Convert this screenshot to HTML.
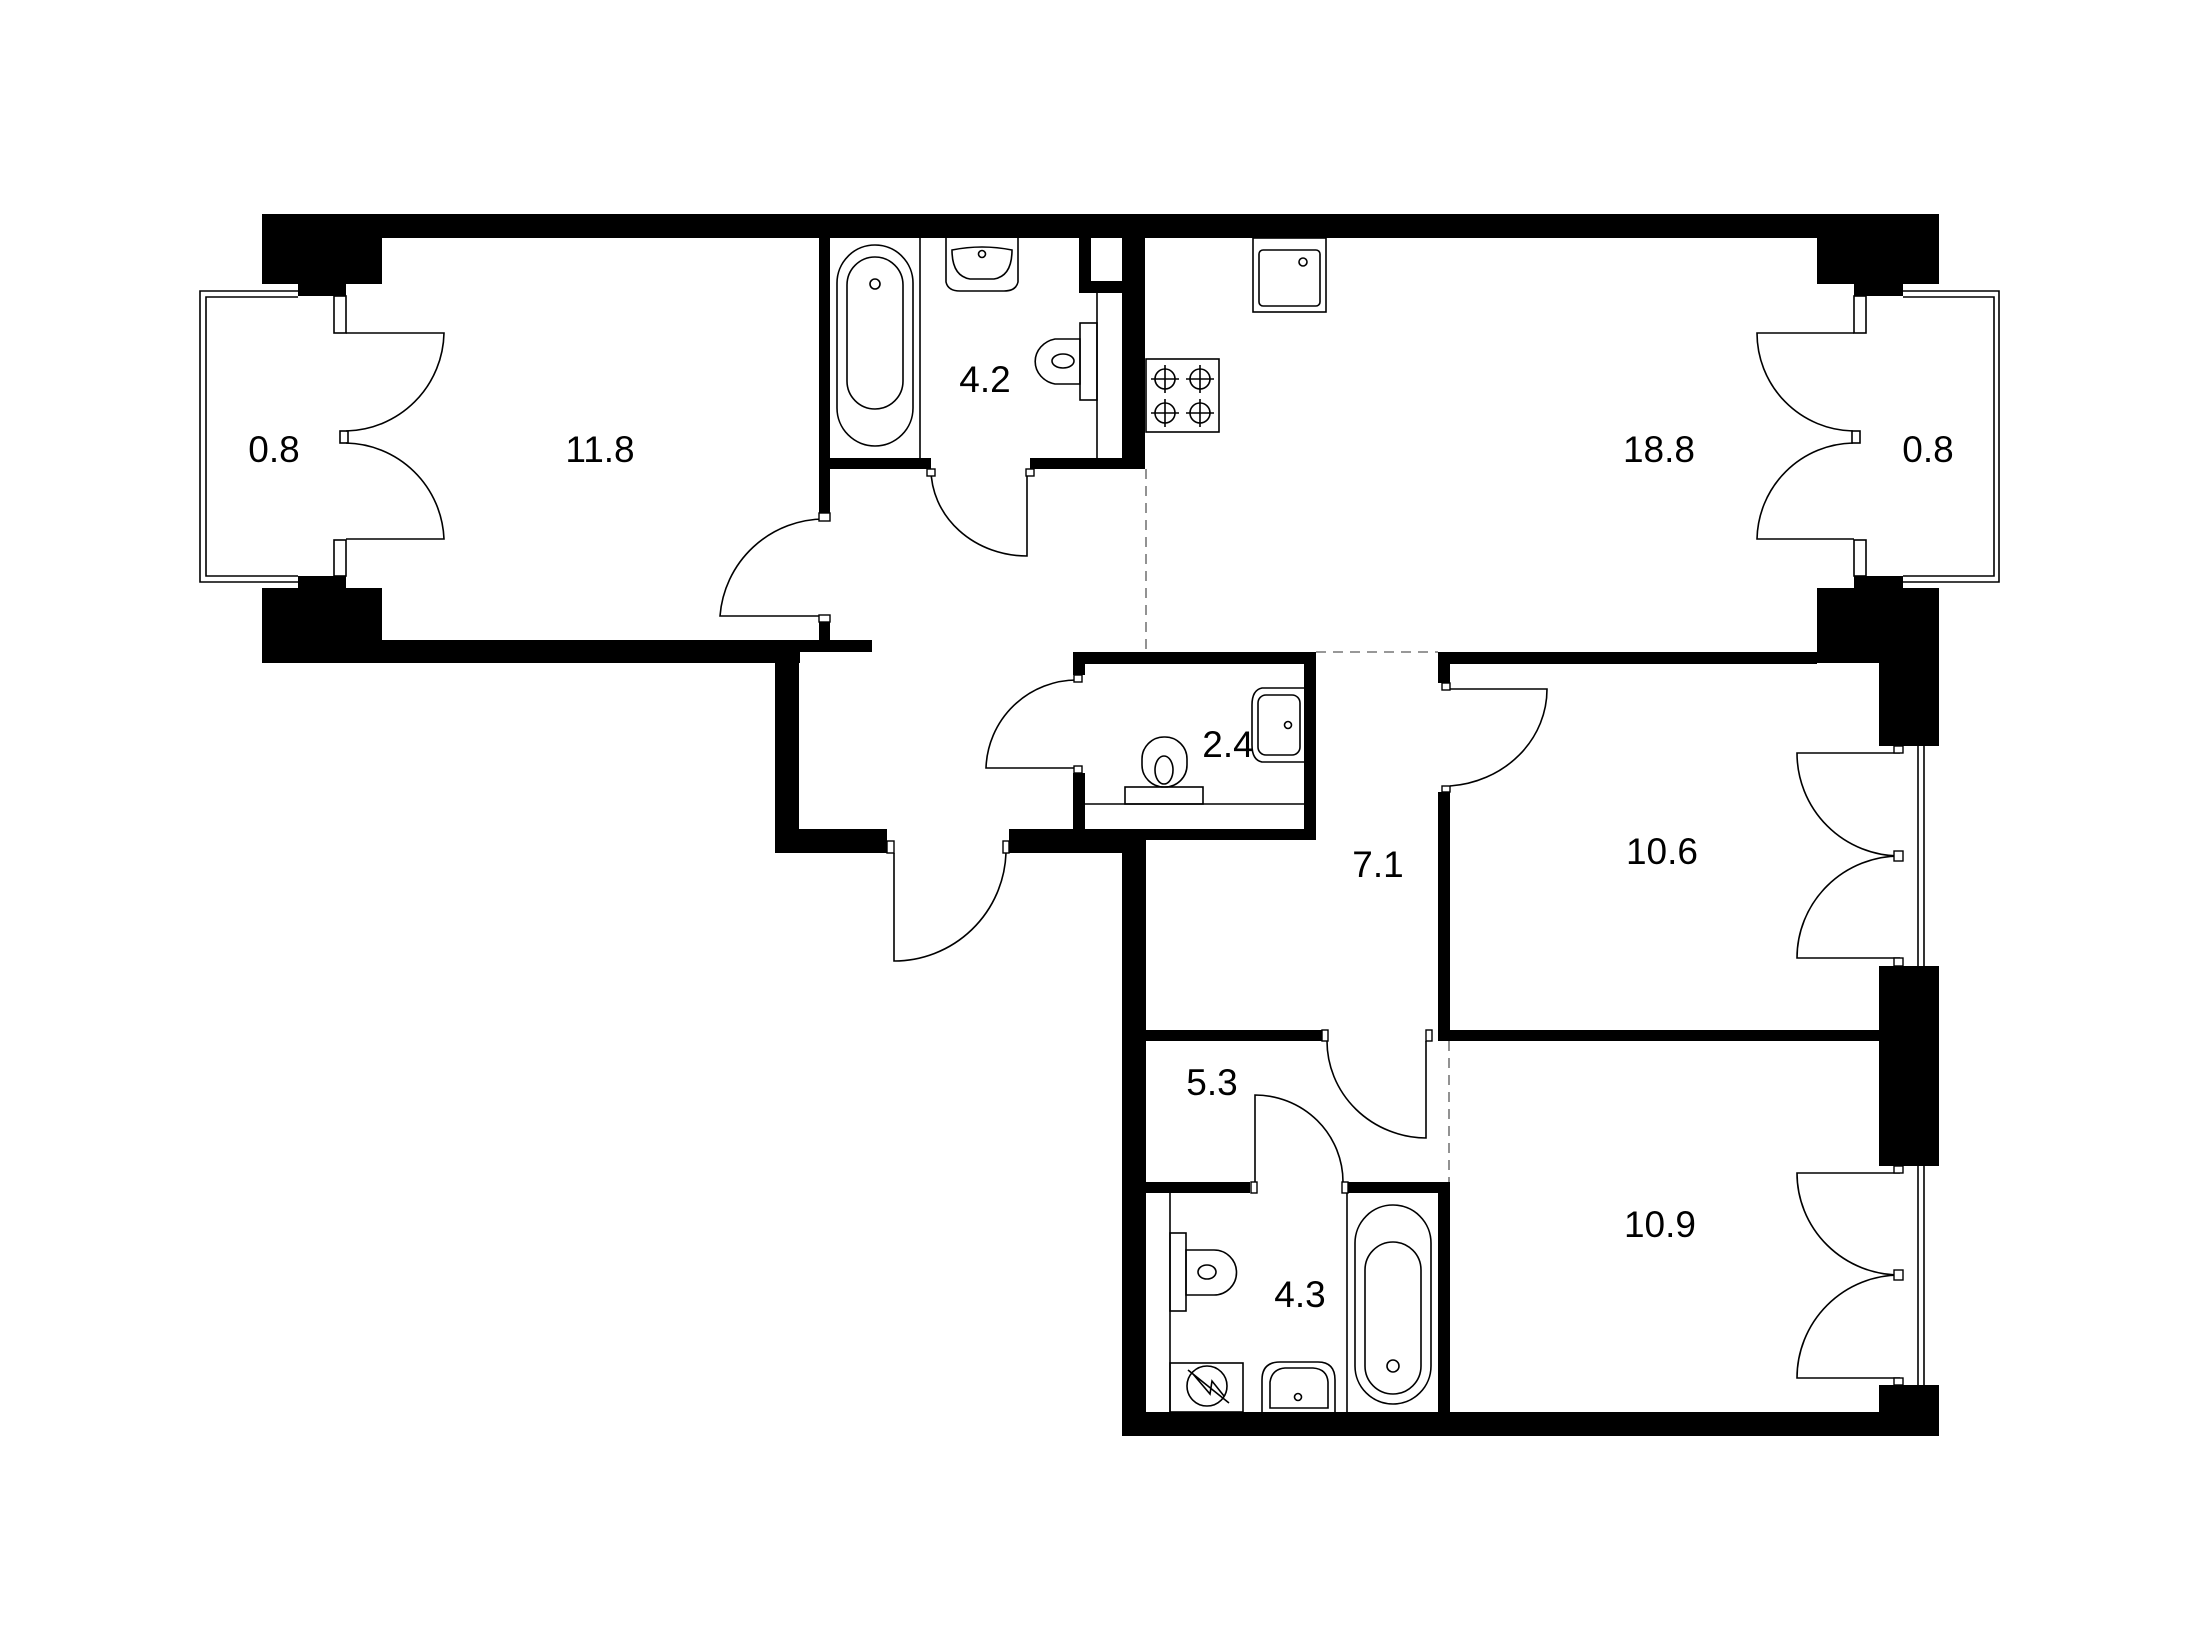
<!DOCTYPE html>
<html><head><meta charset="utf-8"><style>
html,body{margin:0;padding:0;background:#fff;}
svg{display:block;}
text{font-family:"Liberation Sans",sans-serif;font-size:37px;fill:#000;text-anchor:middle;}
</style></head><body>
<svg width="2200" height="1650" viewBox="0 0 2200 1650" xmlns="http://www.w3.org/2000/svg">
<g fill="#000">
<rect x="262" y="214" width="1677" height="24"/>
<rect x="262" y="214" width="120" height="70"/>
<rect x="1817" y="214" width="122" height="70"/>
<rect x="298" y="284" width="48" height="12"/>
<rect x="1854" y="284" width="49" height="12"/>
<rect x="298" y="576" width="48" height="12"/>
<rect x="1854" y="576" width="49" height="12"/>
<rect x="262" y="588" width="120" height="75"/>
<rect x="1817" y="588" width="62" height="75"/>
<rect x="1879" y="588" width="60" height="158"/>
<rect x="1879" y="966" width="60" height="200"/>
<rect x="1879" y="1385" width="60" height="51"/>
<rect x="382" y="640" width="418" height="23"/>
<rect x="800" y="640" width="72" height="12"/>
<rect x="775" y="640" width="24" height="213"/>
<rect x="775" y="829" width="112" height="24"/>
<rect x="1009" y="829" width="113" height="24"/>
<rect x="819" y="238" width="11" height="275"/>
<rect x="819" y="622" width="11" height="18"/>
<rect x="830" y="458" width="101" height="11"/>
<rect x="1030" y="458" width="92" height="11"/>
<rect x="1122" y="238" width="23" height="231"/>
<rect x="1079" y="238" width="12" height="50"/>
<rect x="1079" y="281" width="43" height="12"/>
<rect x="1073" y="652" width="243" height="12"/>
<rect x="1073" y="652" width="12" height="23"/>
<rect x="1073" y="773" width="12" height="56"/>
<rect x="1304" y="652" width="12" height="188"/>
<rect x="1146" y="829" width="170" height="11"/>
<rect x="1122" y="829" width="24" height="607"/>
<rect x="1122" y="1412" width="817" height="24"/>
<rect x="1438" y="652" width="379" height="12"/>
<rect x="1438" y="652" width="12" height="31"/>
<rect x="1438" y="792" width="12" height="249"/>
<rect x="1450" y="1030" width="429" height="11"/>
<rect x="1146" y="1030" width="176" height="11"/>
<rect x="1438" y="1030" width="12" height="11"/>
<rect x="1146" y="1182" width="104" height="11"/>
<rect x="1347" y="1182" width="91" height="11"/>
<rect x="1438" y="1182" width="12" height="230"/>
</g>
<g fill="none" stroke="#000" stroke-width="1.6">
<polyline points="298,291 200,291 200,582 298,582"/>
<polyline points="298,297 206,297 206,576 298,576"/>
<polyline points="1903,291 1999,291 1999,582 1903,582"/>
<polyline points="1903,297 1994,297 1994,576 1903,576"/>
<rect x="334" y="296" width="12" height="37"/><rect x="334" y="540" width="12" height="36"/><rect x="340" y="431" width="8" height="12"/>
<rect x="1854" y="296" width="12" height="37"/><rect x="1854" y="540" width="12" height="36"/><rect x="1852" y="431" width="8" height="12"/>
<path d="M346 333 H444 A100 100 0 0 1 346 431"/>
<path d="M346 539 H444 A100 100 0 0 0 346 443"/>
<path d="M1854 333 H1757 A98 98 0 0 0 1853 431"/>
<path d="M1854 539 H1757 A98 98 0 0 1 1853 443"/>
<path d="M825 616 H720 A105 105 0 0 1 825 519"/>
<path d="M1027 469 V556 A96 87 0 0 1 931 469"/>
<path d="M1077 768 H986 A91 91 0 0 1 1077 680"/>
<path d="M894 853 V961 A112 112 0 0 0 1006 853"/>
<path d="M1442 689 H1547 A105 97 0 0 1 1450 786"/>
<path d="M1426 1041 V1138 A100 97 0 0 1 1327 1041"/>
<path d="M1255 1182 V1095 A88 87 0 0 1 1343 1182"/>
<line x1="1918" y1="746" x2="1918" y2="966"/><line x1="1924" y1="746" x2="1924" y2="966"/>
<line x1="1918" y1="1166" x2="1918" y2="1385"/><line x1="1924" y1="1166" x2="1924" y2="1385"/>
<path d="M1900 753 H1797 A103 103 0 0 0 1900 856"/>
<path d="M1900 958 H1797 A103 102 0 0 1 1900 856"/>
<path d="M1900 1173 H1797 A103 102 0 0 0 1900 1275"/>
<path d="M1900 1378 H1797 A103 103 0 0 1 1900 1275"/>
<line x1="920" y1="238" x2="920" y2="458"/>
<rect x="837" y="245" width="76" height="201" rx="38"/>
<rect x="847" y="257" width="56" height="152" rx="28"/>
<circle cx="875" cy="284" r="5"/>
<path d="M946 238 V282 Q948 291 960 291 H1004 Q1016 291 1018 282 V238"/>
<path d="M952 250 Q952 276 970 279 H994 Q1012 276 1012 250 Q982 244 952 250 Z"/>
<circle cx="982" cy="254" r="3.5"/>
<line x1="1097" y1="293" x2="1097" y2="458"/>
<rect x="1080" y="323" width="17" height="77"/>
<path d="M1080 339 H1055 A25 23 0 0 0 1055 384 H1080 Z"/>
<ellipse cx="1063" cy="361" rx="11" ry="7"/>
<rect x="1253" y="238" width="73" height="74"/>
<rect x="1259" y="250" width="61" height="56" rx="4"/>
<circle cx="1303" cy="262" r="4"/>
<rect x="1146" y="359" width="73" height="73"/>
<g>
<circle cx="1165" cy="379" r="10"/><line x1="1151" y1="379" x2="1179" y2="379"/><line x1="1165" y1="365" x2="1165" y2="393"/>
<circle cx="1200" cy="379" r="10"/><line x1="1186" y1="379" x2="1214" y2="379"/><line x1="1200" y1="365" x2="1200" y2="393"/>
<circle cx="1165" cy="413" r="10"/><line x1="1151" y1="413" x2="1179" y2="413"/><line x1="1165" y1="399" x2="1165" y2="427"/>
<circle cx="1200" cy="413" r="10"/><line x1="1186" y1="413" x2="1214" y2="413"/><line x1="1200" y1="399" x2="1200" y2="427"/>
</g>
<line x1="1085" y1="804" x2="1304" y2="804"/>
<rect x="1125" y="787" width="78" height="17"/>
<rect x="1142" y="737" width="45" height="50" rx="22"/>
<ellipse cx="1164" cy="770" rx="9" ry="14"/>
<path d="M1304 688 H1262 Q1252 690 1252 705 V745 Q1252 760 1262 762 H1304"/>
<rect x="1258" y="695" width="42" height="60" rx="8"/>
<circle cx="1288" cy="725" r="3.5"/>
<line x1="1170" y1="1193" x2="1170" y2="1412"/>
<line x1="1347" y1="1193" x2="1347" y2="1412"/>
<rect x="1170" y="1233" width="16" height="78"/>
<path d="M1186 1250 H1214 A22 22 0 0 1 1214 1295 H1186 Z"/>
<ellipse cx="1207" cy="1272" rx="9" ry="7"/>
<rect x="1170" y="1363" width="73" height="49"/>
<circle cx="1207" cy="1386" r="20"/>
<path d="M1188 1370 L1229 1403 M1193 1374 L1210 1394 L1212 1381 L1224 1396"/>
<path d="M1262 1412 V1380 Q1262 1362 1280 1362 H1318 Q1335 1362 1335 1380 V1412"/>
<path d="M1270 1408 V1382 Q1272 1369 1285 1368 H1313 Q1327 1369 1328 1382 V1408 Z"/>
<circle cx="1298" cy="1397" r="3.5"/>
<rect x="1355" y="1205" width="76" height="199" rx="38"/>
<rect x="1365" y="1242" width="56" height="152" rx="28"/>
<circle cx="1393" cy="1366" r="6"/>
</g>
<g fill="#fff" stroke="#000" stroke-width="1.4">
<rect x="819" y="513" width="11" height="8"/><rect x="819" y="615" width="11" height="7"/>
<rect x="927" y="469" width="8" height="7"/><rect x="1026" y="469" width="8" height="7"/>
<rect x="1074" y="675" width="8" height="7"/><rect x="1074" y="766" width="8" height="7"/>
<rect x="887" y="841" width="7" height="12"/><rect x="1003" y="841" width="6" height="12"/>
<rect x="1442" y="683" width="8" height="7"/><rect x="1442" y="786" width="8" height="6"/>
<rect x="1322" y="1030" width="6" height="11"/><rect x="1426" y="1030" width="6" height="11"/>
<rect x="1251" y="1182" width="6" height="11"/><rect x="1342" y="1182" width="6" height="11"/>
<rect x="1894" y="746" width="9" height="7"/><rect x="1894" y="851" width="9" height="10"/><rect x="1894" y="958" width="9" height="8"/>
<rect x="1894" y="1166" width="9" height="7"/><rect x="1894" y="1270" width="9" height="10"/><rect x="1894" y="1378" width="9" height="7"/>
</g>
<g stroke="#777" stroke-width="1.6" stroke-dasharray="10 7" fill="none">
<line x1="1146" y1="469" x2="1146" y2="652"/>
<line x1="1316" y1="652" x2="1438" y2="652"/>
<line x1="1449" y1="1041" x2="1449" y2="1182"/>
</g>
<text x="274" y="462">0.8</text>
<text x="600" y="462">11.8</text>
<text x="985" y="392">4.2</text>
<text x="1659" y="462">18.8</text>
<text x="1928" y="462">0.8</text>
<text x="1228" y="757">2.4</text>
<text x="1378" y="877">7.1</text>
<text x="1662" y="864">10.6</text>
<text x="1212" y="1095">5.3</text>
<text x="1300" y="1307">4.3</text>
<text x="1660" y="1237">10.9</text>
</svg>
</body></html>
